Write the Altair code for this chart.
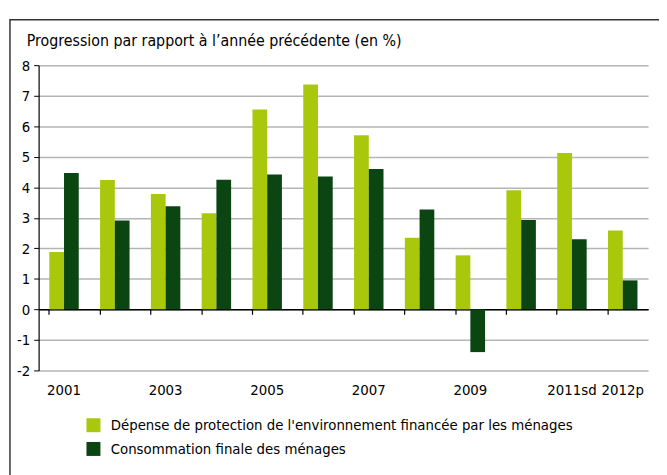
import altair as alt
import pandas as pd

years = ["2001", "2002", "2003", "2004", "2005", "2006", "2007", "2008", "2009", "2010", "2011sd", "2012p"]
depense = [1.88, 4.24, 3.78, 3.15, 6.55, 7.37, 5.70, 2.35, 1.77, 3.90, 5.12, 2.58]
consommation = [4.47, 2.91, 3.38, 4.25, 4.42, 4.35, 4.60, 3.27, -1.40, 2.93, 2.30, 0.95]
series = ["Dépense de protection de l'environnement financée par les ménages",
          "Consommation finale des ménages"]
shown_labels = ["2001", "2003", "2005", "2007", "2009", "2011sd", "2012p"]
y_ticks = [-2, -1, 0, 1, 2, 3, 4, 5, 6, 7, 8]
colors = ["#a9c80b", "#0b4612"]
title_text = "Progression par rapport à l’année précédente (en %)"

rows = []
for i, y in enumerate(years):
    rows.append({"annee": y, "serie": series[0], "valeur": depense[i]})
    rows.append({"annee": y, "serie": series[1], "valeur": consommation[i]})
df = pd.DataFrame(rows)

W, H = 617, 309
FONT = "DejaVu Sans Condensed, sans-serif"
ymin, ymax = y_ticks[0], y_ticks[-1]
zero_off = -H * (0 - ymin) / (ymax - ymin)

label_list = "[" + ",".join("'" + s + "'" for s in shown_labels) + "]"

xscale = alt.Scale(domain=years, paddingInner=0.42, paddingOuter=0.21)
yscale = alt.Scale(domain=[ymin, ymax], nice=False)


def yaxis():
    return alt.Axis(values=y_ticks, tickCount=len(y_ticks), labelOverlap=False,
                    grid=True, gridColor="#b5b5b5", gridWidth=1.5,
                    domainColor="#000", domainWidth=1.2, tickColor="#000", tickSize=5,
                    labelFontSize=15, labelColor="#000", labelFont=FONT, labelPadding=4,
                    labelExpr="datum.value < 0 ? '-' + abs(datum.value) : '' + datum.value")


bars = alt.Chart(df).mark_bar().encode(
    x=alt.X("annee:N", sort=years, scale=xscale, title=None,
            axis=alt.Axis(orient="bottom", labelAngle=0, ticks=False, domain=False, grid=False,
                          labelPadding=12, labelFontSize=15, labelColor="#000", labelFont=FONT,
                          labelExpr="indexof(" + label_list + ", datum.value) >= 0 ? datum.value : ''")),
    xOffset=alt.XOffset("serie:N", sort=series),
    y=alt.Y("valeur:Q", scale=yscale, title=None, axis=yaxis()),
    color=alt.Color("serie:N", sort=series, scale=alt.Scale(domain=series, range=colors),
                    legend=alt.Legend(title=None, orient="none", legendX=48, legendY=357,
                                      symbolType="square", symbolSize=200, symbolStrokeWidth=0,
                                      labelFontSize=15, labelFont=FONT, labelColor="#000",
                                      rowPadding=8, labelOffset=10, labelLimit=600)),
)

zero_axis = alt.Chart(df).mark_point(opacity=0).encode(
    x=alt.X("annee:N", sort=years, scale=xscale, title=None,
            axis=alt.Axis(orient="bottom", offset=zero_off, labels=False, ticks=True, tickSize=5,
                          tickColor="#000", tickWidth=1.2, bandPosition=0, domain=True,
                          domainColor="#000", domainWidth=1.5, grid=False)),
    y=alt.Y("valeur:Q", scale=yscale, title=None, axis=yaxis()),
)

one = pd.DataFrame({"a": [0]})
frame = alt.Chart(one).mark_rect(fill=None, stroke="#333", strokeWidth=1.5).encode(
    x=alt.value(-29), x2=alt.value(700), y=alt.value(-46), y2=alt.value(520)
)
title = alt.Chart(one).mark_text(align="left", baseline="alphabetic", fontSize=16, font=FONT, color="#000").encode(
    x=alt.value(-12), y=alt.value(-19), text=alt.value(title_text)
)

chart = alt.layer(bars, zero_axis, frame, title).resolve_axis(x="independent").properties(
    width=W, height=H,
    autosize=alt.AutoSizeParams(type="none"),
    padding={"left": 31, "top": 55, "right": 11, "bottom": 103},
).configure_view(stroke=None)

chart.save("out.html", embed_options={"renderer": "svg", "actions": False})
